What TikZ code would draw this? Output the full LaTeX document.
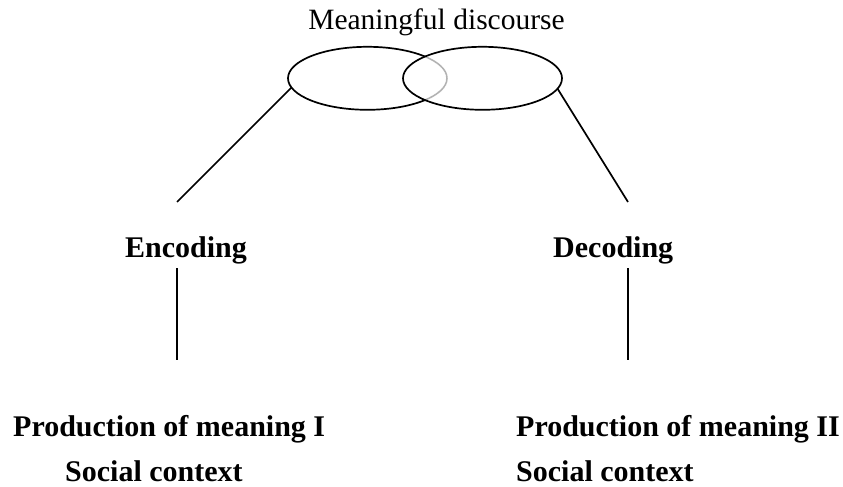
\documentclass[tikz,border=0pt]{standalone}
\usepackage{fontspec}
\setmainfont{Liberation Serif}
\usetikzlibrary{shapes.geometric}
\tikzset{
  lbl/.style={inner sep=0pt, font=\fontsize{30}{36}\selectfont\bfseries},
  toplbl/.style={inner sep=0pt, font=\fontsize{29.5}{35}\selectfont},
  conn/.style={line width=1.7pt, black},
  oval/.style={ellipse, draw=none, minimum width=159pt, minimum height=63pt, inner sep=0pt}
}
\begin{document}
\begin{tikzpicture}[x=1pt,y=-1pt]
\useasboundingbox (0,0) rectangle (843,487);
% labels
\node[toplbl, anchor=base] (mean) at (436.5,30) {Meaningful discourse};
\node[lbl, anchor=base west] (enc) at (125,257) {Encoding};
\node[lbl, anchor=base west] (dec) at (553,257) {Decoding};
\node[lbl, anchor=base west] (prod1) at (13,436.5) {Production of meaning I};
\node[lbl, anchor=base west] (soc1) at (65,481) {Social context};
\node[lbl, anchor=base west] (prod2) at (516,436.5) {Production of meaning II};
\node[lbl, anchor=base west] (soc2) at (516,481) {Social context};
% ellipses
\node[oval] (le) at (367.5,78.3) {};
\node[oval] (re) at (482.5,78.3) {};
\draw[conn] (367.5,78.3) ellipse [x radius=79.5, y radius=31.5];
\begin{scope}
  \clip (482.5,78.3) ellipse [x radius=79.5, y radius=31.5];
  \draw[line width=3pt, white] (367.5,78.3) ellipse [x radius=79.5, y radius=31.5];
  \draw[line width=1.5pt, gray!60] (367.5,78.3) ellipse [x radius=79.5, y radius=31.5];
\end{scope}
\draw[conn] (482.5,78.3) ellipse [x radius=79.5, y radius=31.5];
% connector ends
\coordinate (e1) at (177,202);
\coordinate (d1) at (628,202);
\coordinate (e2) at (177,268);
\coordinate (e3) at (177,360);
\coordinate (d2) at (628,268);
\coordinate (d3) at (628,360);
\draw[conn] (le.187.4) -- (e1);
\draw[conn] (re.352.6) -- (d1);
\draw[conn] (e2) -- (e3);
\draw[conn] (d2) -- (d3);
\end{tikzpicture}
\end{document}
